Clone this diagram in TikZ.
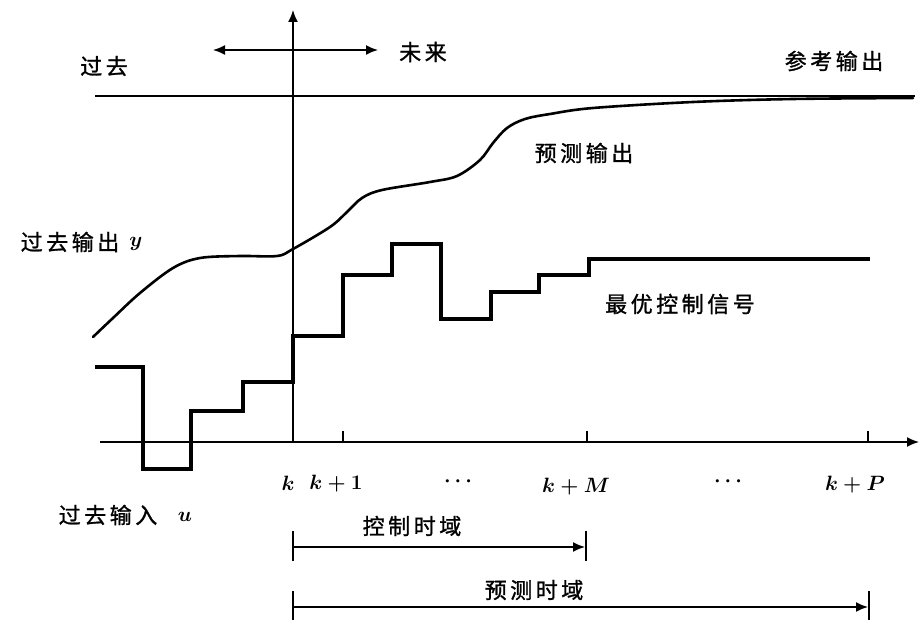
\documentclass[tikz,border=0pt]{standalone}
\usepackage{fontspec}
\newfontfamily\cjk[LetterSpace=16,FakeBold=1.2]{Noto Sans CJK SC}
\usetikzlibrary{arrows.meta}
\tikzset{
  thinln/.style={line width=1.6pt},
  ctrlln/.style={line width=3.4pt, line join=miter},
  outln/.style={line width=2.6pt, line cap=round},
  tip/.style={-{Latex[length=12pt,width=10pt]}},
  cjklbl/.style={font=\cjk\fontsize{22}{24}\selectfont, inner sep=0pt},
  mathlbl/.style={font=\boldmath\fontsize{20}{22}\selectfont, inner sep=0pt},
}
\begin{document}
\begin{tikzpicture}[x=1pt,y=-1pt]
\useasboundingbox (0,0) rectangle (919,620);
% coordinates
\coordinate (vb) at (293,442);
\coordinate (vt) at (293,10);
\coordinate (hl) at (100,442);
\coordinate (hr) at (919,442);
\coordinate (rl) at (95,96);
\coordinate (rr) at (915,96);
\coordinate (pl) at (213,50);
\coordinate (pr) at (378,50);
\coordinate (pm) at (293,50);
% axes
\draw[thinln,tip] (vb) -- (vt);
\draw[thinln,tip] (hl) -- (hr);
% ticks
\foreach \tx/\tn in {343/t1,587/tM,868/tP}{
  \coordinate (\tn a) at (\tx,442);
  \coordinate (\tn b) at (\tx,431);
  \draw[thinln] (\tn a) -- (\tn b);
}
% reference output
\draw[thinln] (rl) -- (rr);
% past/future arrow
\draw[thinln,tip] (pm) -- (pl);
\draw[thinln,tip] (pm) -- (pr);
% predicted output
\draw[outln] plot[smooth, tension=0.55] coordinates {
 (93,337) (113,318) (140,293) (173,268) (200,258) (240,256) (277,256)
 (293,249) (330,227) (347,212) (362,198) (382,190) (430,182) (457,176)
 (480,160) (493,143) (507,128) (525,119) (550,114) (593,108) (693,102)
 (793,99) (913,98)};
% control signal
\draw[ctrlln] (95,367) -- (143,367) -- (143,469) -- (191,469) -- (191,411)
 -- (243,411) -- (243,382) -- (293,382) -- (293,336) -- (343,336)
 -- (343,275) -- (392,275) -- (392,244) -- (441,244) -- (441,319)
 -- (491,319) -- (491,292) -- (539,292) -- (539,275) -- (589,275)
 -- (589,259) -- (870,259);
% horizon arrows
\coordinate (c0t) at (293,531); \coordinate (c0b) at (293,561);
\coordinate (cMt) at (586,531); \coordinate (cMb) at (586,561);
\coordinate (c0) at (293,547); \coordinate (cM) at (585,547);
\draw[thinln] (c0t) -- (c0b);
\draw[thinln] (cMt) -- (cMb);
\draw[thinln,tip] (c0) -- (cM);
\coordinate (p0t) at (293,591); \coordinate (p0b) at (293,620);
\coordinate (pPt) at (869,591); \coordinate (pPb) at (869,620);
\coordinate (p0) at (293,607); \coordinate (pP) at (868,607);
\draw[thinln] (p0t) -- (p0b);
\draw[thinln] (pPt) -- (pPb);
\draw[thinln,tip] (p0) -- (pP);
% labels
\node[cjklbl] (past) at (104,66) {过去};
\node[cjklbl] (fut) at (423,52) {未来};
\node[cjklbl] (ref) at (834,61) {参考输出};
\node[cjklbl] (pred) at (584,153) {预测输出};
\node[cjklbl] (pasty) at (70,242) {过去输出};
\node[mathlbl] (ysym) at (136,244) {$y$};
\node[cjklbl] (opt) at (680,304) {最优控制信号};
\node[cjklbl] (pastu) at (108,515) {过去输入};
\node[mathlbl] (usym) at (185,517) {$u$};
\node[mathlbl] (lk) at (288,483) {$k$};
\node[mathlbl] (lk1) at (336,484) {$k+1$};
\node[mathlbl] (ld1) at (458,482) {$\cdots$};
\node[mathlbl] (lkM) at (576,487) {$k+M$};
\node[mathlbl] (ld2) at (728,482) {$\cdots$};
\node[mathlbl] (lkP) at (855,485) {$k+P$};
\node[cjklbl] (ctrlh) at (412,526) {控制时域};
\node[cjklbl] (predh) at (534,590) {预测时域};
\end{tikzpicture}
\end{document}
